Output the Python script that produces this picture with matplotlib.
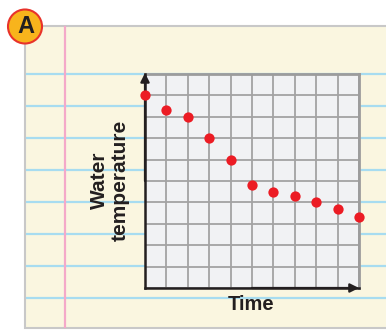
import matplotlib
matplotlib.use('Agg')
import matplotlib.pyplot as plt
from matplotlib.patches import Rectangle, Circle

# data (grid units)
time = [0, 1, 2, 3, 4, 5, 6, 7, 8, 9, 10]
water_temp = [9.0, 8.3, 8.0, 7.0, 6.0, 4.8, 4.5, 4.3, 4.0, 3.7, 3.3]
x_label = 'Time'
y_label_lines = ['Water', 'temperature']
badge = 'A'

W, H = 386, 330
fig = plt.figure(figsize=(W / 100, H / 100), dpi=100)
fig.patch.set_facecolor('white')

# background "notebook paper" in pixel coordinates
bg = fig.add_axes([0, 0, 1, 1])
bg.set_xlim(0, W)
bg.set_ylim(H, 0)
bg.axis('off')

bg.add_patch(Rectangle((25, 26), 380, 302, fc='#FAF6E0', ec='#C8C8C8', lw=1.5))
for y in [74, 106, 138, 170, 202, 234, 266, 298]:
    bg.plot([26, W], [y, y], color='#A7DCF0', lw=1.6, solid_capstyle='butt')
bg.plot([65, 65], [27, 327], color='#F4A9C9', lw=1.6)

bg.add_patch(Circle((25, 26.5), 17, fc='#F8B41C', ec='#E8322A', lw=1.5, zorder=5))
bg.text(25.5, 26.5, badge, ha='center', va='center', fontsize=17, fontweight='heavy',
        family='Liberation Sans', color='#231F20', zorder=6)

font = dict(family='Liberation Sans', fontweight='bold', color='#231F20')
bg.text(251.5, 310, x_label, ha='center', va='baseline', fontsize=14.5, **font)
bg.text(105, 180.5, y_label_lines[0], rotation=90, rotation_mode='anchor',
        ha='center', va='baseline', fontsize=15, **font)
bg.text(126, 180.5, y_label_lines[1], rotation=90, rotation_mode='anchor',
        ha='center', va='baseline', fontsize=15, **font)

# the graph grid
ax = fig.add_axes([145 / W, (H - 288) / H, 214 / W, 214 / H])
ax.set_facecolor('#F1F2F4')
ax.set_xlim(0, 10)
ax.set_ylim(0, 10)
ax.set_xticks(range(11))
ax.set_yticks(range(11))
ax.grid(True, color='#A3A3A3', lw=1.3)
ax.tick_params(length=0, labelbottom=False, labelleft=False)
for s in ['top', 'right']:
    ax.spines[s].set_color('#9C9C9C')
    ax.spines[s].set_linewidth(2)
for s in ['left', 'bottom']:
    ax.spines[s].set_color('#231F20')
    ax.spines[s].set_linewidth(1.8)
    ax.spines[s].set_zorder(4)

arrow = dict(arrowstyle='-|>', color='#231F20', lw=1.6, mutation_scale=13, shrinkA=0, shrinkB=0)
ax.annotate('', xy=(0, 1.005), xytext=(0, 0.5), xycoords='axes fraction', arrowprops=arrow, zorder=5)
ax.annotate('', xy=(1.0, 0), xytext=(0.5, 0), xycoords='axes fraction', arrowprops=arrow, zorder=5)

ax.plot(time, water_temp, 'o', color='#EC1C24', ms=7.4, mec='none', clip_on=False, zorder=6)

fig.savefig('out.png', dpi=100)
